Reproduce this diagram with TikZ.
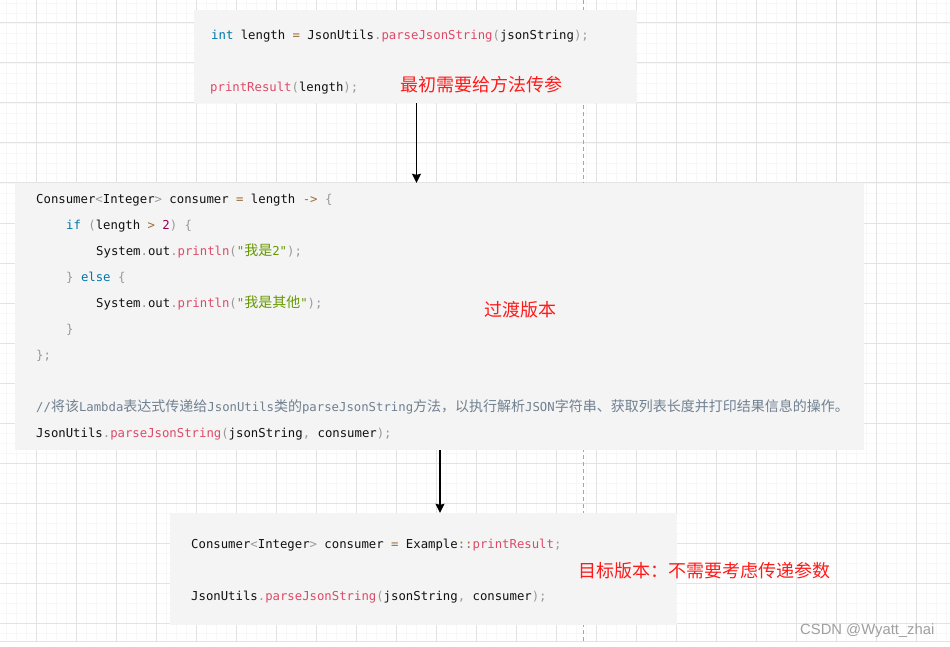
\documentclass[tikz,border=0pt]{standalone}
\usepackage{fontspec}
\setmainfont{Liberation Sans}
\newfontfamily\codefont{DejaVu Sans Mono}
\newfontfamily\cjk{Noto Sans CJK SC}
\usetikzlibrary{arrows.meta}
\definecolor{kwc}{HTML}{0077AA}
\definecolor{fnc}{HTML}{DD4A68}
\definecolor{puc}{HTML}{999999}
\definecolor{opc}{HTML}{9A6E3A}
\definecolor{nmc}{HTML}{990055}
\definecolor{stc}{HTML}{669900}
\definecolor{cmc}{HTML}{708090}
\definecolor{codetext}{HTML}{111111}
\definecolor{notered}{HTML}{FF1A1A}
\definecolor{boxfill}{HTML}{F4F4F4}
\definecolor{gridmajor}{HTML}{E3E3E3}
\definecolor{gridminor}{HTML}{F7F7F7}
\newcommand\zh[1]{{\cjk\fontsize{14}{14}\selectfont #1}}
\newcommand\kw[1]{{\color{kwc}#1}}
\newcommand\fn[1]{{\color{fnc}#1}}
\newcommand\pu[1]{{\color{puc}#1}}
\newcommand\op[1]{{\color{opc}#1}}
\newcommand\nm[1]{{\color{nmc}#1}}
\newcommand\st[1]{{\color{stc}#1}}
\tikzset{
  codeline/.style={anchor=base west, inner sep=0pt, font=\codefont\fontsize{12.3}{14}\selectfont, text=codetext},
  note/.style={anchor=base west, inner sep=0pt, font=\cjk\fontsize{18}{20}\selectfont, text=notered},
  codebox/.style={rectangle, fill=boxfill, draw=none, inner sep=0pt},
  arr/.style={draw=black, line width=1.3pt, -{Stealth[length=9pt,width=9pt,inset=1pt]}},
}
\begin{document}
\begin{tikzpicture}[x=1pt,y=-1pt]
\useasboundingbox (0,0) rectangle (950,647);
\fill[white] (0,0) rectangle (950,647);
% grid
\foreach \x in {6,16,...,946} \draw[gridminor, line width=0.8pt] (\x,0) -- (\x,641);
\foreach \y in {3,13,...,633} \draw[gridminor, line width=0.8pt] (0,\y) -- (950,\y);
\foreach \x in {36,76,...,916} \draw[gridmajor, line width=1pt] (\x,0) -- (\x,641);
\foreach \y in {23,63,...,623} \draw[gridmajor, line width=1pt] (0,\y) -- (950,\y);
\draw[gridmajor, line width=1.5pt] (0,641.5) -- (950,641.5);
% dashed guide
\draw[gray!70, line width=0.9pt, dash pattern=on 4pt off 3pt] (583,0) -- (583,641);
% boxes
\node[codebox, minimum width=443pt, minimum height=93pt] (b1) at (415.5,56.5) {};
\node[codebox, minimum width=849pt, minimum height=267pt] (b2) at (439.5,316.5) {};
\node[codebox, minimum width=507pt, minimum height=112pt] (b3) at (423.5,569) {};
% box 1
\node[codeline] (l11) at (211,39.5) {\kw{int} length \op{=} JsonUtils\pu{.}\fn{parseJsonString}\pu{(}jsonString\pu{);}};
\node[codeline] (l12) at (210,91.5) {\fn{printResult}\pu{(}length\pu{);}};
\node[note] (n1) at (400,91.5) {最初需要给方法传参};
% box 2
\node[codeline] (l21) at (36,203.5) {Consumer\pu{<}Integer\pu{>} consumer \op{=} length \op{->} \pu{\{}};
\node[codeline] (l22) at (66,229.5) {\kw{if} \pu{(}length \op{>} \nm{2}\pu{)} \pu{\{}};
\node[codeline] (l23) at (96,255.5) {System\pu{.}out\pu{.}\fn{println}\pu{(}\st{"\zh{我是}2"}\pu{);}};
\node[codeline] (l24) at (66,281.5) {\pu{\}} \kw{else} \pu{\{}};
\node[codeline] (l25) at (96,307.5) {System\pu{.}out\pu{.}\fn{println}\pu{(}\st{"\zh{我是其他}"}\pu{);}};
\node[codeline] (l26) at (66,333.5) {\pu{\}}};
\node[codeline] (l27) at (36,359.5) {\pu{\};}};
\node[codeline] (l28) at (36,411.5) {\color{cmc}//\zh{将该}Lambda\zh{表达式传递给}JsonUtils\zh{类的}parseJsonString\zh{方法，以执行解析}JSON\zh{字符串、获取列表长度并打印结果信息的操作。}};
\node[codeline] (l29) at (36,437.5) {JsonUtils\pu{.}\fn{parseJsonString}\pu{(}jsonString\pu{,} consumer\pu{);}};
\node[note] (n2) at (484,316.5) {过渡版本};
% box 3
\node[codeline] (l31) at (191,548.5) {Consumer\pu{<}Integer\pu{>} consumer \op{=} Example\op{::}\fn{printResult}\pu{;}};
\node[codeline] (l32) at (191,600.5) {JsonUtils\pu{.}\fn{parseJsonString}\pu{(}jsonString\pu{,} consumer\pu{);}};
\node[note] (n3) at (578,577.5) {目标版本：不需要考虑传递参数};
% arrows
\coordinate (ax1) at (416.5,0);
\coordinate (ax2) at (440,0);
\draw[arr] (b1.south -| ax1) -- (b2.north -| ax1);
\draw[arr] (b2.south -| ax2) -- (b3.north -| ax2);
% watermark
\node[anchor=base west, inner sep=0pt, font=\fontsize{14.8}{16}\selectfont, text=gray!75] (wm) at (800,634) {CSDN @Wyatt\_zhai};
\end{tikzpicture}
\end{document}
